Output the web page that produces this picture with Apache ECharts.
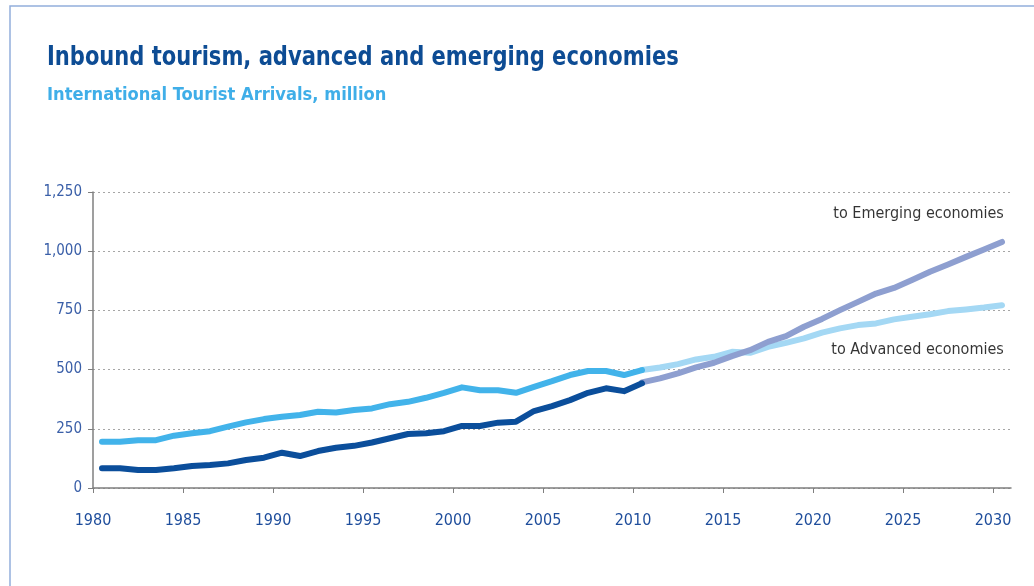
<!DOCTYPE html>
<html>
<head>
<meta charset="utf-8">
<script src="https://cdn.jsdelivr.net/npm/echarts@6/dist/echarts.min.js"></script>
<style>
html,body{margin:0;padding:0;background:#fff;}
#chart{width:1034px;height:586px;}
</style>
</head>
<body>
<div id="chart"></div>
<script>
// ---- data ----
const histYears = [1980,1981,1982,1983,1984,1985,1986,1987,1988,1989,1990,1991,1992,1993,1994,1995,1996,1997,1998,1999,2000,2001,2002,2003,2004,2005,2006,2007,2008,2009,2010];
const advancedHist = [195,195,202,202,221,231,240,259,277,291,301,308,322,319,329,336,354,364,381,402,425,413,413,402,427,451,477,494,494,477,498];
const emergingHist = [83,83,76,76,83,93,97,104,118,128,149,135,156,170,178,192,210,228,231,240,262,262,276,280,325,346,371,402,421,409,442];
const forecastYears = [2010,2011,2012,2013,2014,2015,2016,2017,2018,2019,2020,2021,2022,2023,2024,2025,2026,2027,2028,2029,2030];
const advancedFcst = [498,509,523,543,554,575,571,596,613,632,656,674,688,695,712,723,734,747,754,762,772];
const emergingFcst = [446,463,484,509,529,557,582,617,641,681,714,751,786,821,845,878,913,944,976,1007,1039];
const xTickLabels = [1980,1985,1990,1995,2000,2005,2010,2015,2020,2025,2030];
const yTicks = [0,250,500,750,1000,1250];
const titleText = 'Inbound tourism, advanced and emerging economies';
const subtitleText = 'International Tourist Arrivals, million';
const labelEmerging = 'to Emerging economies';
const labelAdvanced = 'to Advanced economies';

const narrow = '"DejaVu Sans Condensed","Liberation Sans Narrow",sans-serif';
const pair = (xs, ys) => xs.map((x, i) => [x, ys[i]]);
const tickPos = xTickLabels.map(v => v - 0.5);

const chart = echarts.init(document.getElementById('chart'), null, {renderer: 'canvas'});
const lineBase = (name, data, color) => ({
  name, type: 'line', data, showSymbol: false, symbol: 'none',
  lineStyle: {color, width: 6, cap: 'round', join: 'round'},
  itemStyle: {color}, z: 3, animation: false
});

chart.setOption({
  animation: false,
  backgroundColor: '#fff',
  graphic: [
    {type: 'rect', shape: {x: 10, y: 6, width: 1100, height: 700},
     style: {fill: 'none', stroke: '#93AEDB', lineWidth: 1.5}, silent: true},
    {type: 'text', x: 47, y: 45, scaleX: 0.9, silent: true,
     style: {text: titleText, font: 'bold 26px ' + narrow, fill: '#0D4C94',
       textAlign: 'left', textVerticalAlign: 'top'}},
    {type: 'text', x: 47, y: 86, scaleX: 0.98, silent: true,
     style: {text: subtitleText, font: 'bold 18.5px ' + narrow, fill: '#3FAEE8',
       textAlign: 'left', textVerticalAlign: 'top'}}
  ],
  grid: {left: 93, right: 23, top: 192, bottom: 98, containLabel: false},
  xAxis: {
    type: 'value', min: 1979.5, max: 2030.5,
    axisLine: {show: true, lineStyle: {color: '#7f7f7f', width: 1.5}},
    axisTick: {show: true, customValues: tickPos, length: 5, lineStyle: {color: '#7f7f7f'}},
    axisLabel: {customValues: tickPos, formatter: v => String(Math.round(v + 0.5)),
      fontFamily: narrow, fontSize: 16, color: '#1F4E9C', margin: 25},
    splitLine: {show: false}
  },
  yAxis: {
    type: 'value', min: 0, max: 1250, interval: 250,
    axisLine: {show: true, lineStyle: {color: '#7f7f7f', width: 1.5}},
    axisTick: {show: true, length: 5, lineStyle: {color: '#7f7f7f'}},
    axisLabel: {formatter: v => v.toLocaleString('en-US'), fontFamily: narrow, fontSize: 15,
      color: '#3A5FA8', margin: 11},
    splitLine: {show: true, lineStyle: {color: '#a6a6a6', type: [2, 3], width: 1}}
  },
  series: [
    lineBase('Advanced forecast', pair(forecastYears, advancedFcst), '#A4D8F4'),
    lineBase('Emerging forecast', pair(forecastYears, emergingFcst), '#8E9FD0'),
    lineBase('Advanced', pair(histYears, advancedHist), '#42B3EA'),
    lineBase('Emerging', pair(histYears, emergingHist), '#0B4E9B'),
    {type: 'scatter', data: [[2030.1, 1156, labelEmerging], [2030.1, 582, labelAdvanced]],
     symbolSize: 0, silent: true, z: 5,
     label: {show: true, position: 'left', distance: 0, formatter: p => p.data[2],
       fontFamily: narrow, fontSize: 16, color: '#000000'}}
  ]
});
</script>
</body>
</html>
